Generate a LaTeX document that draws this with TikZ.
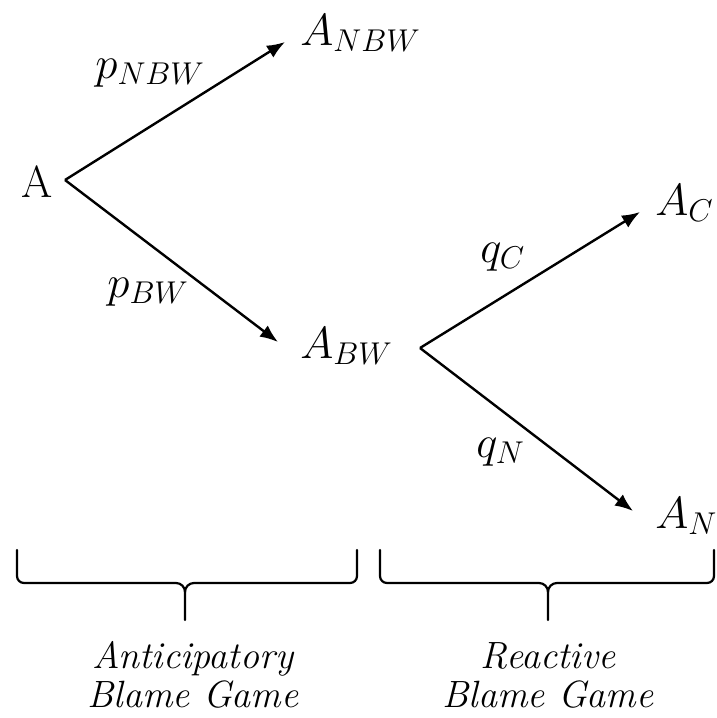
\RequirePackage{fix-cm}
\documentclass[tikz,border=0pt]{standalone}
\usetikzlibrary{positioning}
\usetikzlibrary{calc}
\usetikzlibrary{arrows.meta}
\tikzset{
    state/.style={inner sep=0pt, font=\fontsize{22.5}{27}\selectfont},
    prob/.style={inner sep=0pt, anchor=base west, font=\fontsize{22.5}{27}\selectfont},
    branch/.style={line width=1.2pt, -{Latex[length=9pt,width=7pt]}},
    brc/.style={line width=1.1pt, line cap=round},
    phase/.style={inner sep=0pt, anchor=base, align=center, font=\fontsize{19}{19.5}\selectfont\itshape}
}

\begin{document}
\begin{tikzpicture}[x=0.5pt,y=-0.5pt]
            \useasboundingbox (0,0) rectangle (717,718);

            \node (A)    [state, anchor=base]      at (37,197)  {A};
            \node (ANBW) [state, anchor=base west] at (300,45)  {\(A_{NBW}\)};
            \node (ABW)  [state, anchor=base west] at (300,358) {\(A_{BW}\)};
            \node (AC)   [state, anchor=base west] at (655,215) {\(A_{C}\)};
            \node (AN)   [state, anchor=base west] at (655,528) {\(A_{N}\)};

            \coordinate (Afork)  at (65,180);
            \coordinate (BWfork) at (420,348);

            \draw[branch] (Afork)  -- ($(ANBW.base west)+(-15,-3)$);
            \draw[branch] (Afork)  -- ($(ABW.base west)+(-22,-16)$);
            \draw[branch] (BWfork) -- ($(AC.base west)+(-15,-3)$);
            \draw[branch] (BWfork) -- ($(AN.base west)+(-22,-17)$);

            \node (pNBW) [prob] at (95,78)   {\(p_{NBW}\)};
            \node (pBW)  [prob] at (107,297) {\(p_{BW}\)};
            \node (qC)   [prob] at (480,262) {\(q_{C}\)};
            \node (qN)   [prob] at (476,457) {\(q_{N}\)};

            % braces under the two phases
            \foreach \l/\m/\r in {17/185/357, 380/548/714} {
                \draw[brc] (\l,550) -- (\l,576) to[out=-90,in=180] (\l+7,583)
                    -- (\m-9,583) to[out=0,in=90] (\m,592) -- (\m,620);
                \draw[brc] (\m,592) to[out=90,in=180] (\m+9,583)
                    -- (\r-7,583) to[out=0,in=-90] (\r,576) -- (\r,550);
            }

            \node (antic) [phase] at (193,707) {Anticipatory\\Blame Game};
            \node (react) [phase] at (548,707) {Reactive\\Blame Game};
        \end{tikzpicture}
\end{document}
